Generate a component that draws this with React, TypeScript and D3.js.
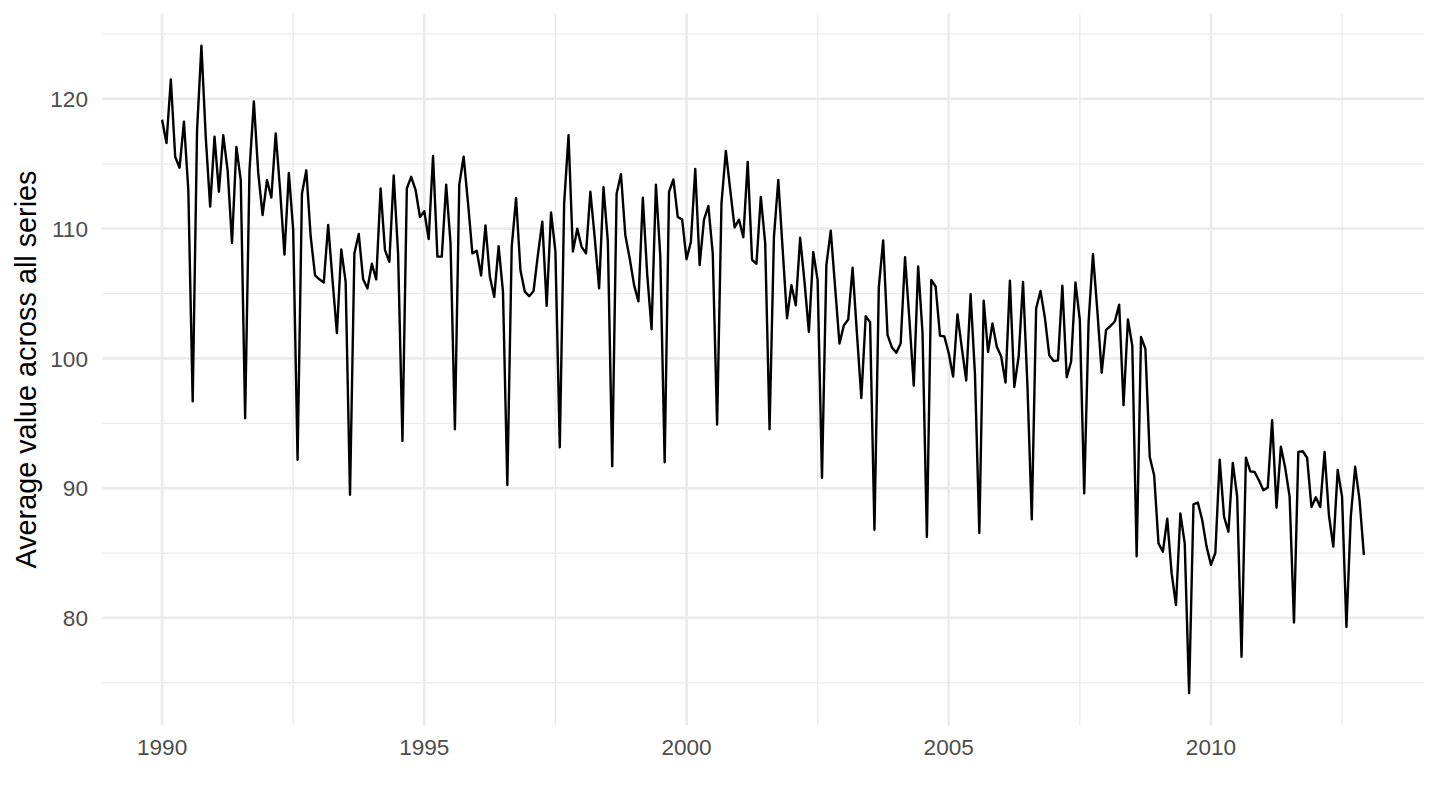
import React, { useEffect, useRef } from 'react';
import * as d3 from 'd3';

// monthly averages, Jan..Dec
const v1990 = [118.4, 116.6, 121.5, 115.55, 114.7, 118.25, 113.0, 96.7, 117.6, 124.1, 117.0, 111.7];
const v1991 = [117.1, 112.85, 117.2, 114.5, 108.9, 116.3, 113.75, 95.4, 114.5, 119.8, 114.3, 111.05];
const v1992 = [113.75, 112.4, 117.35, 113.0, 108.0, 114.3, 109.9, 92.2, 112.7, 114.5, 109.4, 106.4];
const v1993 = [106.1, 105.85, 110.3, 106.05, 101.95, 108.4, 105.9, 89.5, 108.1, 109.6, 106.1, 105.4];
const v1994 = [107.3, 106.1, 113.1, 108.35, 107.45, 114.1, 108.1, 93.65, 113.1, 114.0, 113.0, 110.9];
const v1995 = [111.35, 109.2, 115.6, 107.85, 107.85, 113.4, 108.9, 94.55, 113.4, 115.55, 112.0, 108.1];
const v1996 = [108.3, 106.4, 110.25, 106.3, 104.75, 108.65, 105.15, 90.25, 108.6, 112.35, 106.8, 105.15];
const v1997 = [104.8, 105.2, 108.0, 110.55, 104.05, 111.25, 108.25, 93.15, 111.95, 117.2, 108.25, 110.0];
const v1998 = [108.6, 108.1, 112.85, 109.3, 105.4, 113.2, 109.0, 91.7, 112.7, 114.2, 109.5, 107.7];
const v1999 = [105.65, 104.4, 112.4, 106.5, 102.25, 113.4, 107.85, 92.0, 112.85, 113.8, 110.9, 110.7];
const v2000 = [107.65, 109.0, 114.6, 107.2, 110.7, 111.75, 108.1, 94.9, 111.95, 116.0, 113.0, 110.1];
const v2001 = [110.7, 109.35, 115.15, 107.6, 107.3, 112.45, 108.9, 94.55, 109.35, 113.75, 108.4, 103.1];
const v2002 = [105.65, 104.1, 109.3, 105.9, 102.05, 108.2, 106.05, 90.8, 107.2, 109.85, 105.5, 101.15];
const v2003 = [102.55, 103.0, 107.0, 101.9, 96.95, 103.25, 102.8, 86.8, 105.5, 109.1, 101.8, 100.85];
const v2004 = [100.45, 101.15, 107.8, 103.0, 97.9, 107.1, 102.0, 86.25, 106.05, 105.55, 101.75, 101.7];
const v2005 = [100.4, 98.6, 103.4, 100.8, 98.3, 104.95, 98.8, 86.55, 104.45, 100.5, 102.7, 100.9];
const v2006 = [100.15, 98.15, 106.0, 97.8, 100.15, 105.9, 98.0, 87.6, 103.85, 105.2, 103.15, 100.25];
const v2007 = [99.8, 99.85, 105.6, 98.55, 99.75, 105.85, 102.95, 89.6, 102.8, 108.05, 103.7, 98.9];
const v2008 = [102.2, 102.5, 102.85, 104.15, 96.4, 103.0, 101.0, 84.75, 101.65, 100.75, 92.4, 91.0];
const v2009 = [85.75, 85.1, 87.65, 83.45, 81.0, 88.05, 85.75, 74.2, 88.75, 88.9, 87.55, 85.5];
const v2010 = [84.1, 85.0, 92.2, 87.8, 86.65, 91.95, 89.35, 77.0, 92.35, 91.3, 91.25, 90.6];
const v2011 = [89.85, 90.05, 95.25, 88.5, 93.2, 91.55, 89.35, 79.65, 92.8, 92.85, 92.35, 88.55];
const v2012 = [89.3, 88.55, 92.8, 87.9, 85.5, 91.4, 89.35, 79.3, 87.8, 91.65, 89.1, 84.85];

const startYear = 1990;
const xTicks = [1990, 1995, 2000, 2005, 2010];
const xMinor = [1992.5, 1997.5, 2002.5, 2007.5, 2012.5];
const yTicks = [80, 90, 100, 110, 120];
const yMinor = [75, 85, 95, 105, 115, 125];
const yTitle = 'Average value across all series';

const values = [
    v1990, v1991, v1992, v1993, v1994, v1995, v1996, v1997, v1998, v1999, v2000, v2001,
    v2002, v2003, v2004, v2005, v2006, v2007, v2008, v2009, v2010, v2011, v2012,
].flat();

const App: React.FC = () => {
    const chartRef = useRef<SVGSVGElement | null>(null);

    useEffect(() => {
        if (!chartRef.current) return;

        const width = 1440;
        const height = 810;
        const panel = { left: 102, right: 1424, top: 13.4, bottom: 725.6 };
        const font = '"Liberation Sans", Arial, Helvetica, sans-serif';

        const svg = d3.select(chartRef.current);
        svg.selectAll('*').remove();
        svg.attr('width', width).attr('height', height);

        const data = values.map((v, i) => ({ t: startYear + i / 12, v }));

        // ggplot-style 5% expansion
        const [t0, t1] = d3.extent(data, d => d.t) as [number, number];
        const [v0, v1] = d3.extent(data, d => d.v) as [number, number];
        const tPad = (t1 - t0) * 0.05;
        const vPad = (v1 - v0) * 0.05;

        const x = d3.scaleLinear()
            .domain([t0 - tPad, t1 + tPad])
            .range([panel.left, panel.right]);

        const y = d3.scaleLinear()
            .domain([v0 - vPad, v1 + vPad])
            .range([panel.bottom, panel.top]);

        const grid = svg.append('g');

        // minor grid
        grid.selectAll('line.ymin')
            .data(yMinor.filter(d => y(d) >= panel.top && y(d) <= panel.bottom))
            .enter().append('line')
            .attr('x1', panel.left).attr('x2', panel.right)
            .attr('y1', d => y(d)).attr('y2', d => y(d))
            .attr('stroke', '#EBEBEB').attr('stroke-width', 1.4);

        grid.selectAll('line.xmin')
            .data(xMinor)
            .enter().append('line')
            .attr('x1', d => x(d)).attr('x2', d => x(d))
            .attr('y1', panel.top).attr('y2', panel.bottom)
            .attr('stroke', '#EBEBEB').attr('stroke-width', 1.4);

        // major grid
        grid.selectAll('line.ymaj')
            .data(yTicks)
            .enter().append('line')
            .attr('x1', panel.left).attr('x2', panel.right)
            .attr('y1', d => y(d)).attr('y2', d => y(d))
            .attr('stroke', '#EBEBEB').attr('stroke-width', 2.7);

        grid.selectAll('line.xmaj')
            .data(xTicks)
            .enter().append('line')
            .attr('x1', d => x(d)).attr('x2', d => x(d))
            .attr('y1', panel.top).attr('y2', panel.bottom)
            .attr('stroke', '#EBEBEB').attr('stroke-width', 2.7);

        const line = d3.line<{ t: number; v: number }>()
            .x(d => x(d.t))
            .y(d => y(d.v));

        svg.append('path')
            .datum(data)
            .attr('d', line)
            .attr('fill', 'none')
            .attr('stroke', '#000')
            .attr('stroke-width', 2.4)
            .attr('stroke-linejoin', 'round');

        // tick labels
        svg.append('g').selectAll('text')
            .data(yTicks)
            .enter().append('text')
            .attr('x', 88)
            .attr('y', d => y(d))
            .attr('dy', '0.36em')
            .attr('text-anchor', 'end')
            .style('font-family', font)
            .style('font-size', '22.6px')
            .style('fill', '#4D4D4D')
            .text(d => d);

        svg.append('g').selectAll('text')
            .data(xTicks)
            .enter().append('text')
            .attr('x', d => x(d))
            .attr('y', 755)
            .attr('text-anchor', 'middle')
            .style('font-family', font)
            .style('font-size', '22.6px')
            .style('fill', '#4D4D4D')
            .text(d => d);

        // axis title
        svg.append('text')
            .attr('transform', `translate(36, ${(panel.top + panel.bottom) / 2}) rotate(-90)`)
            .attr('text-anchor', 'middle')
            .style('font-family', font)
            .style('font-size', '28.8px')
            .style('fill', '#000')
            .text(yTitle);
    }, []);

    return (
        <svg
            ref={chartRef}
            style={{ position: 'absolute', left: 0, top: 0, background: '#fff' }}
        />
    );
};

export default App;
